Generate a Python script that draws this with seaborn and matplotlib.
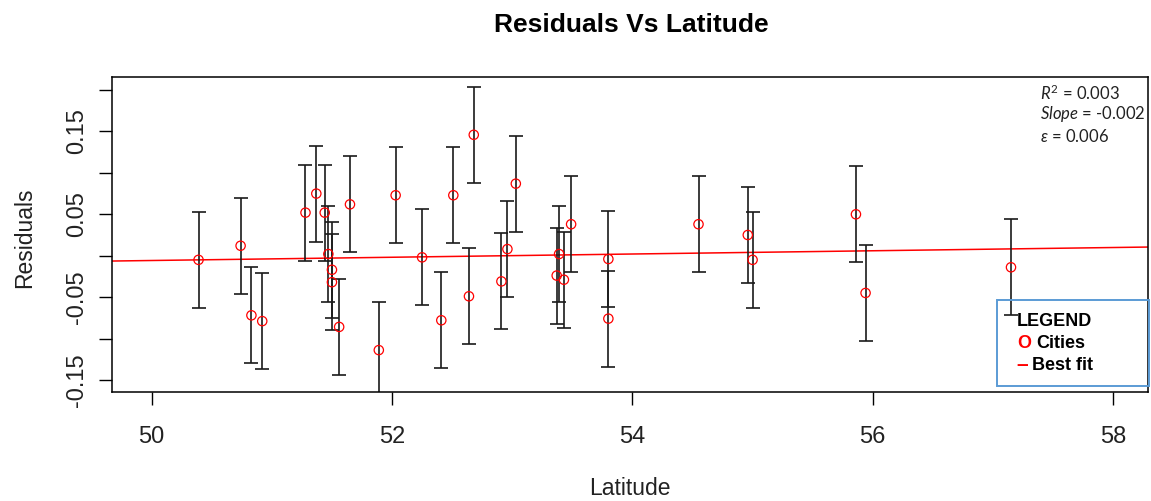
import matplotlib
matplotlib.use("Agg")
import matplotlib.pyplot as plt
import seaborn as sns
import pandas as pd
from matplotlib.patches import Rectangle

# values
LATITUDE = [50.39, 50.74, 50.83, 50.92, 51.28, 51.37, 51.44, 51.47, 51.50, 51.50,
            51.56, 51.65, 51.89, 52.03, 52.25, 52.41, 52.51, 52.64, 52.68, 52.91,
            52.96, 53.03, 53.37, 53.39, 53.43, 53.49, 53.80, 53.80, 54.55, 54.96,
            55.00, 55.86, 55.94, 57.15]
RESIDUALS = [-0.005, 0.012, -0.072, -0.079, 0.052, 0.075, 0.052, 0.002, -0.017, -0.032,
             -0.086, 0.062, -0.114, 0.073, -0.002, -0.078, 0.073, -0.049, 0.146, -0.031,
             0.008, 0.087, -0.024, 0.002, -0.029, 0.038, -0.004, -0.076, 0.038, 0.025,
             -0.005, 0.050, -0.045, -0.014]
ERROR = 0.058
FIT_AT_50 = -0.0058
FIT_SLOPE = 0.00196

X_TICKS = [50, 52, 54, 56, 58]
Y_TICKS = [-0.15, -0.10, -0.05, 0.00, 0.05, 0.10, 0.15, 0.20]
Y_TICK_LABELS = ["-0.15", "", "-0.05", "", "0.05", "", "0.15", ""]
STATS = [r"$R^2$ = 0.003", r"$Slope$ = -0.002", r"$\varepsilon$ = 0.006"]

sns.set_theme(style="white")
plt.rcParams["font.family"] = ["Liberation Sans", "DejaVu Sans"]
plt.rcParams["mathtext.fontset"] = "custom"
plt.rcParams["mathtext.rm"] = "Lato"
plt.rcParams["mathtext.it"] = "Lato:italic"

df = pd.DataFrame({"latitude": LATITUDE, "residual": RESIDUALS})

fig = plt.figure(figsize=(11.51, 5.01), dpi=100)
ax = fig.add_axes([112 / 1151, 1 - 392 / 501, 1036 / 1151, 315 / 501])

ax.axline((50, FIT_AT_50), slope=FIT_SLOPE, color="red", lw=1.1, zorder=1.5)
ax.errorbar(df["latitude"], df["residual"], yerr=ERROR, fmt="none", ecolor="#1a1a1a",
            elinewidth=1.2, capsize=5, capthick=1.2, zorder=2)
sns.scatterplot(data=df, x="latitude", y="residual", marker="o", s=45,
                facecolor="none", edgecolor="red", linewidth=0.9, ax=ax, zorder=3)

ax.set_xlim(49.67, 58.29)
ax.set_ylim(-0.1646, 0.2158)
ax.set_xticks(X_TICKS)
ax.set_xticklabels([str(t) for t in X_TICKS])
ax.set_yticks(Y_TICKS)
ax.set_yticklabels(Y_TICK_LABELS, rotation=90, va="center")
ax.tick_params(axis="both", direction="out", length=9.5, width=1.0, color="black",
               labelsize=17, labelcolor="#222222", bottom=True, left=True)
ax.tick_params(axis="x", pad=15)
ax.tick_params(axis="y", pad=8)
for side in ax.spines.values():
    side.set_color("black")
    side.set_linewidth(1.1)

ax.set_xlabel("Latitude", fontsize=16.5, color="#222222", va="center")
ax.xaxis.set_label_coords(0.5, -0.305)
ax.set_ylabel("Residuals", fontsize=16.5, color="#222222", va="center")
ax.yaxis.set_label_coords(-0.084, 0.49)

fig.text(631 / 1151, 1 - 25 / 501, "Residuals Vs Latitude", ha="center", va="center",
         fontsize=19, fontweight="bold", color="black")

# stats block, top right
for i, line in enumerate(STATS):
    fig.text(1040 / 1151, 1 - (93 + 21.5 * i) / 501, line, ha="left", va="center",
             fontsize=12, family="Lato", color="#222222")

# hand drawn legend box
fig.add_artist(Rectangle((997 / 1151, 1 - 386 / 501), 152 / 1151, 86 / 501,
                         transform=fig.transFigure, fill=False,
                         edgecolor="#5B9BD5", lw=1.4))
fig.text(1017 / 1151, 1 - 321 / 501, "LEGEND", ha="left", va="center",
         fontsize=13, fontweight="bold", color="black")
fig.text(1017 / 1151, 1 - 343 / 501, "O", ha="left", va="center",
         fontsize=13, fontweight="bold", color="red")
fig.text(1036 / 1151, 1 - 343 / 501, "Cities", ha="left", va="center",
         fontsize=13, fontweight="bold", color="black")
fig.text(1016 / 1151, 1 - 364 / 501, "\u2013", ha="left", va="center",
         fontsize=15, fontweight="bold", color="red")
fig.text(1032 / 1151, 1 - 365 / 501, "Best fit", ha="left", va="center",
         fontsize=13, fontweight="bold", color="black")

fig.savefig("out.png", dpi=100)
